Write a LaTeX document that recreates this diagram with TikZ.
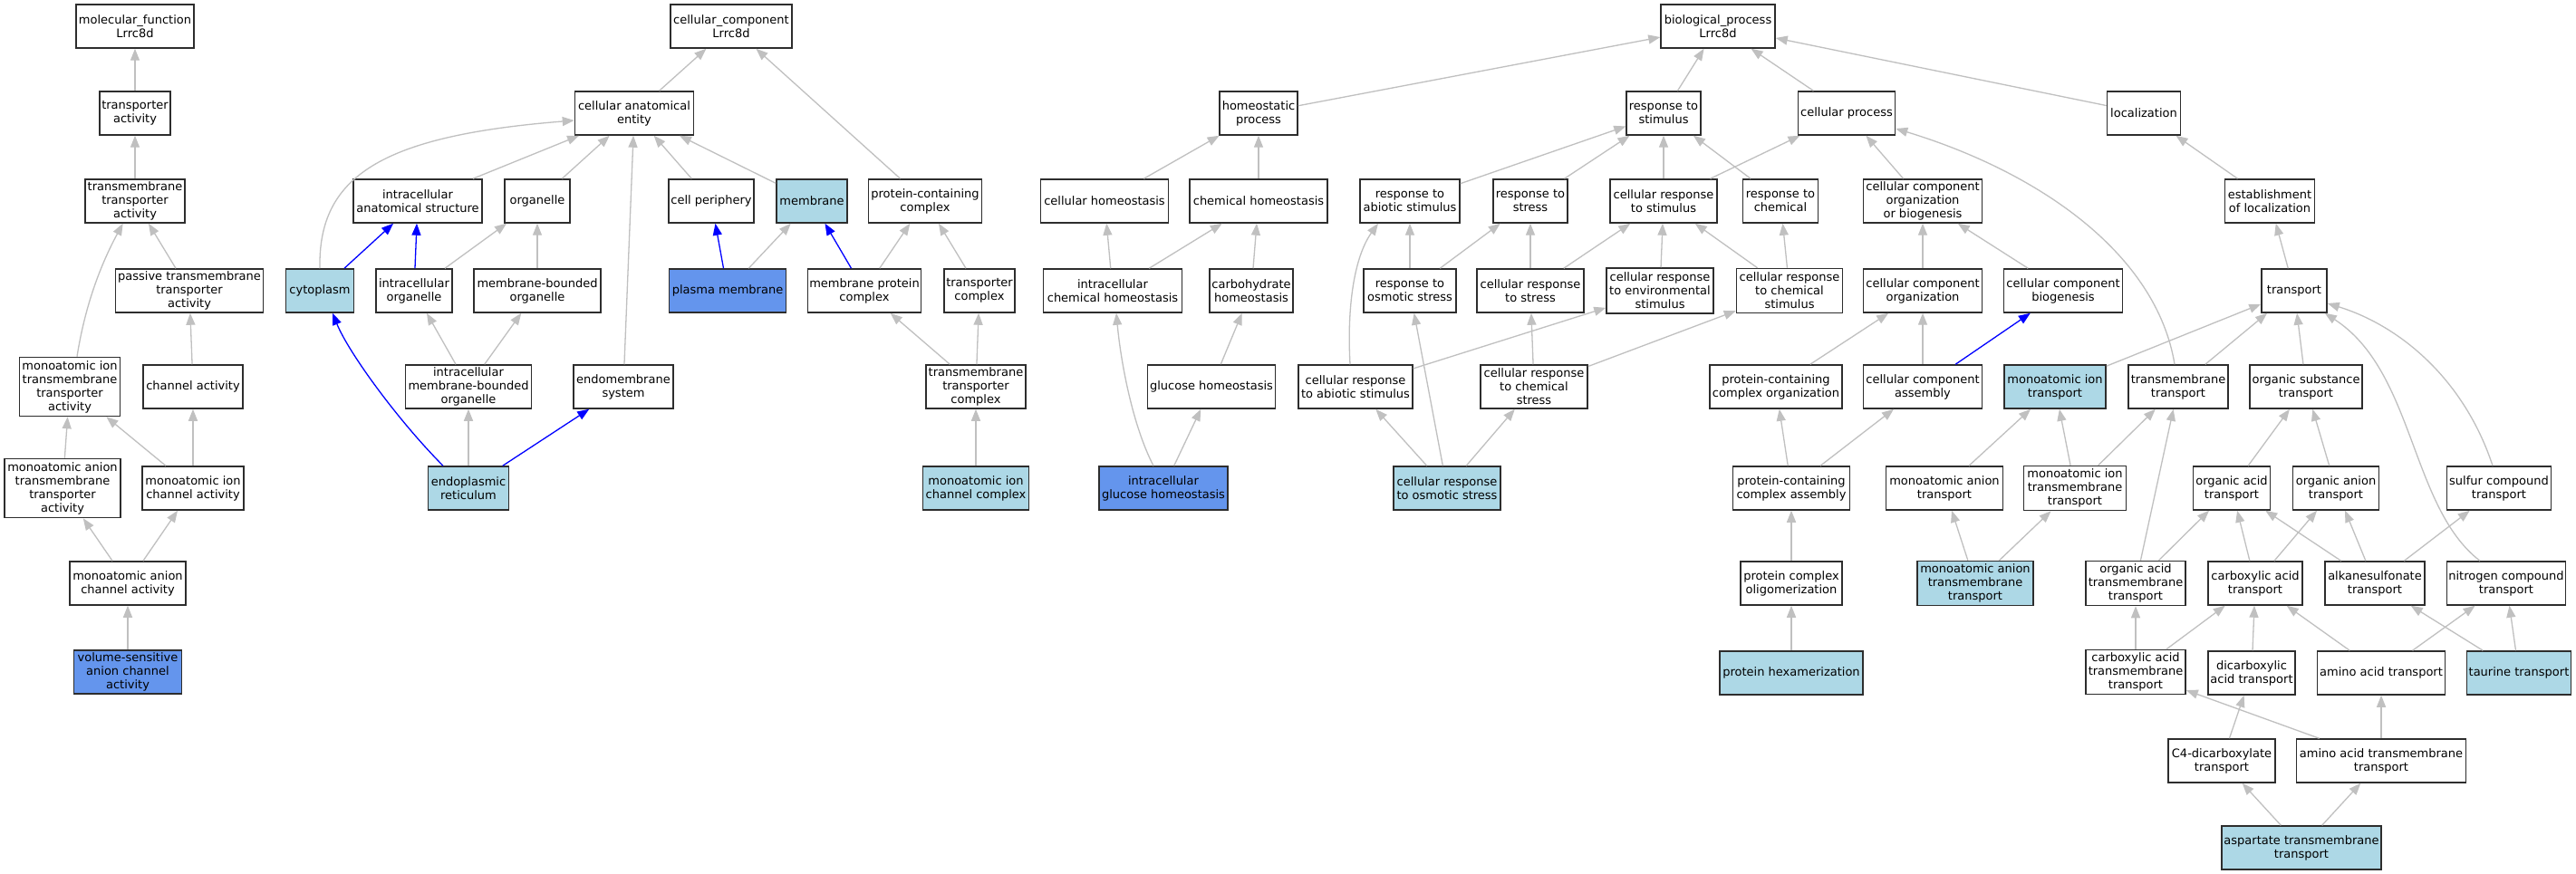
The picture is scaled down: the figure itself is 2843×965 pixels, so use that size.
\documentclass[tikz,border=0pt]{standalone}
\usepackage{fontspec}
\setmainfont{DejaVu Sans}
\usetikzlibrary{arrows.meta}
\definecolor{edgegray}{RGB}{192,192,192}
\definecolor{lblue}{RGB}{173,216,230}
\definecolor{cblue}{RGB}{100,149,237}
\definecolor{boxline}{RGB}{45,45,45}
\begin{document}
\begin{tikzpicture}[x=1pt,y=-1pt,
  box/.style={draw=boxline, line width=1.5pt, fill=white, rectangle, align=center,
    inner xsep=1pt, inner ysep=1pt, minimum height=48pt,
    font=\fontsize{13}{15}\selectfont, text=black},
  tall/.style={minimum height=65pt},
  hl/.style={fill=lblue},
  hd/.style={fill=cblue},
  isa/.style={draw=edgegray, line width=1.3pt, -{Triangle[length=13pt,width=10pt]}},
  isab/.style={draw=blue, line width=1.3pt, -{Triangle[length=13pt,width=10pt]}}]
\fill[white] (0,0) rectangle (2843,965);
\useasboundingbox (0,0) rectangle (2843,965);

% ---------- molecular function ----------
\node[box, minimum width=130pt] (mf) at (149,29) {molecular\_function\\Lrrc8d};
\node[box, minimum width=78pt] (ta) at (149,125) {transporter\\activity};
\node[box, minimum width=110pt] (tta) at (149,222) {transmembrane\\transporter\\activity};
\node[box, minimum width=163pt] (ptta) at (209,321) {passive transmembrane\\transporter\\activity};
\node[box, tall, minimum width=111pt] (mitta) at (77,427) {monoatomic ion\\transmembrane\\transporter\\activity};
\node[box, minimum width=110pt] (ca) at (213,427) {channel activity};
\node[box, tall, minimum width=128pt] (matta) at (69,539) {monoatomic anion\\transmembrane\\transporter\\activity};
\node[box, minimum width=112pt] (mica) at (213,539) {monoatomic ion\\channel activity};
\node[box, minimum width=128pt] (maca) at (141,644) {monoatomic anion\\channel activity};
\node[box, hd, minimum width=119pt] (vsac) at (141,742) {volume-sensitive\\anion channel\\activity};

% ---------- cellular component ----------
\node[box, minimum width=134pt] (cc) at (807,29) {cellular\_component\\Lrrc8d};
\node[box, minimum width=131pt] (cae) at (700,125) {cellular anatomical\\entity};
\node[box, minimum width=142pt] (ias) at (461,222) {intracellular\\anatomical structure};
\node[box, minimum width=72pt] (org) at (593,222) {organelle};
\node[box, minimum width=94pt] (cp) at (785,222) {cell periphery};
\node[box, hl, minimum width=78pt] (mem) at (896,222) {membrane};
\node[box, minimum width=125pt] (pcc) at (1021,222) {protein-containing\\complex};
\node[box, hl, minimum width=75pt] (cyto) at (353,321) {cytoplasm};
\node[box, minimum width=84pt] (io) at (457,321) {intracellular\\organelle};
\node[box, minimum width=140pt] (mbo) at (593,321) {membrane-bounded\\organelle};
\node[box, hd, minimum width=129pt] (pm) at (803,321) {plasma membrane};
\node[box, minimum width=125pt] (mpc) at (954,321) {membrane protein\\complex};
\node[box, minimum width=78pt] (tc) at (1081,321) {transporter\\complex};
\node[box, minimum width=139pt] (imbo) at (517,427) {intracellular\\membrane-bounded\\organelle};
\node[box, minimum width=110pt] (ems) at (688,427) {endomembrane\\system};
\node[box, minimum width=110pt] (ttc) at (1077,427) {transmembrane\\transporter\\complex};
\node[box, hl, minimum width=89pt] (er) at (517,539) {endoplasmic\\reticulum};
\node[box, hl, minimum width=117pt] (micc) at (1077,539) {monoatomic ion\\channel complex};

% ---------- biological process ----------
\node[box, minimum width=126pt] (bp) at (1896,29) {biological\_process\\Lrrc8d};
\node[box, minimum width=86pt] (hp) at (1389,125) {homeostatic\\process};
\node[box, minimum width=82pt] (rs) at (1836,125) {response to\\stimulus};
\node[box, minimum width=107pt] (cpr) at (2038,125) {cellular process};
\node[box, minimum width=81pt] (loc) at (2366,125) {localization};
\node[box, minimum width=141pt] (ch) at (1219,222) {cellular homeostasis};
\node[box, minimum width=152pt] (chh) at (1389,222) {chemical homeostasis};
\node[box, minimum width=110pt] (ras) at (1556,222) {response to\\abiotic stimulus};
\node[box, minimum width=82pt] (rst) at (1689,222) {response to\\stress};
\node[box, minimum width=118pt] (crs) at (1836,222) {cellular response\\to stimulus};
\node[box, minimum width=83pt] (rc) at (1965,222) {response to\\chemical};
\node[box, minimum width=131pt] (ccob) at (2122,222) {cellular component\\organization\\or biogenesis};
\node[box, minimum width=99pt] (eol) at (2505,222) {establishment\\of localization};
\node[box, minimum width=153pt] (ich) at (1228,321) {intracellular\\chemical homeostasis};
\node[box, minimum width=92pt] (carb) at (1381,321) {carbohydrate\\homeostasis};
\node[box, minimum width=102pt] (ros) at (1556,321) {response to\\osmotic stress};
\node[box, minimum width=118pt] (crst) at (1689,321) {cellular response\\to stress};
\node[box, minimum width=118pt, minimum height=50pt] (cres) at (1832,321) {cellular response\\to environmental\\stimulus};
\node[box, minimum width=117pt, minimum height=49pt] (crcs) at (1975,321) {cellular response\\to chemical\\stimulus};
\node[box, minimum width=131pt] (cco) at (2122,321) {cellular component\\organization};
\node[box, minimum width=131pt] (ccb) at (2277,321) {cellular component\\biogenesis};
\node[box, minimum width=72pt] (tr) at (2532,321) {transport};
\node[box, minimum width=141pt] (gh) at (1337,427) {glucose homeostasis};
\node[box, minimum width=126pt] (cras) at (1496,427) {cellular response\\to abiotic stimulus};
\node[box, minimum width=118pt] (crchs) at (1693,427) {cellular response\\to chemical\\stress};
\node[box, minimum width=146pt] (pco) at (1960,427) {protein-containing\\complex organization};
\node[box, minimum width=131pt] (cca) at (2122,427) {cellular component\\assembly};
\node[box, hl, minimum width=112pt] (mit) at (2268,427) {monoatomic ion\\transport};
\node[box, minimum width=110pt] (tmt) at (2404,427) {transmembrane\\transport};
\node[box, minimum width=124pt] (ost) at (2545,427) {organic substance\\transport};
\node[box, hd, minimum width=142pt] (igh) at (1284,539) {intracellular\\glucose homeostasis};
\node[box, hl, minimum width=118pt] (cros) at (1597,539) {cellular response\\to osmotic stress};
\node[box, minimum width=129pt] (pca) at (1977,539) {protein-containing\\complex assembly};
\node[box, minimum width=129pt] (mat) at (2146,539) {monoatomic anion\\transport};
\node[box, minimum width=113pt, minimum height=49pt] (mitt) at (2290,539) {monoatomic ion\\transmembrane\\transport};
\node[box, minimum width=85pt] (oat) at (2463,539) {organic acid\\transport};
\node[box, minimum width=95pt] (oant) at (2578,539) {organic anion\\transport};
\node[box, minimum width=115pt] (sct) at (2758,539) {sulfur compound\\transport};
\node[box, minimum width=112pt] (poli) at (1977,644) {protein complex\\oligomerization};
\node[box, hl, minimum width=128pt, minimum height=49pt] (matt) at (2180,644) {monoatomic anion\\transmembrane\\transport};
\node[box, minimum width=110pt, minimum height=49pt] (oatt) at (2357,644) {organic acid\\transmembrane\\transport};
\node[box, minimum width=104pt] (cat) at (2489,644) {carboxylic acid\\transport};
\node[box, minimum width=110pt] (alk) at (2621,644) {alkanesulfonate\\transport};
\node[box, minimum width=131pt] (nct) at (2766,644) {nitrogen compound\\transport};
\node[box, hl, minimum width=158pt] (phex) at (1977,743) {protein hexamerization};
\node[box, minimum width=110pt, minimum height=49pt] (catt) at (2357,742) {carboxylic acid\\transmembrane\\transport};
\node[box, minimum width=96pt] (dat) at (2485,743) {dicarboxylic\\acid transport};
\node[box, minimum width=141pt] (aat) at (2628,743) {amino acid transport};
\node[box, hl, minimum width=115pt] (tau) at (2780,743) {taurine transport};
\node[box, minimum width=118pt] (c4) at (2452,840) {C4-dicarboxylate\\transport};
\node[box, minimum width=187pt] (aatt) at (2628,840) {amino acid transmembrane\\transport};
\node[box, hl, minimum width=176pt] (asp) at (2540,936) {aspartate transmembrane\\transport};

% ---------- edges: molecular function ----------
\draw[isa] (ta) -- (mf);
\draw[isa] (tta) -- (ta);
\draw[isa] (ptta) -- (tta);
\draw[isa] ([xshift=8pt]mitta.north) .. controls (95,330) and (115,285) .. (tta);
\draw[isa] (ca) -- (ptta);
\draw[isa] (matta) -- (mitta);
\draw[isa] (mica) -- (mitta);
\draw[isa] (mica) -- (ca);
\draw[isa] (maca) -- (matta);
\draw[isa] (maca) -- (mica);
\draw[isa] (vsac) -- (maca);

% ---------- edges: cellular component ----------
\draw[isa] (cae) -- (cc);
\draw[isa] (pcc) -- (cc);
\draw[isa] (cyto.north) .. controls (351,195) and (420,150) .. ([yshift=-8pt]cae.west);
\draw[isa] (ias) -- (cae);
\draw[isa] (org) -- (cae);
\draw[isa] (cp) -- (cae);
\draw[isa] (mem) -- (cae);
\draw[isa] (ems) -- (cae);
\draw[isab] (cyto) -- (ias);
\draw[isab] (io) -- (ias);
\draw[isa] (io) -- (org);
\draw[isa] (mbo) -- (org);
\draw[isa] (imbo) -- (io);
\draw[isa] (imbo) -- (mbo);
\draw[isab] ([xshift=-28pt]er.north) .. controls (440,465) and (385,390) .. ([xshift=14pt]cyto.south);
\draw[isa] (er) -- (imbo);
\draw[isab] (er) -- (ems);
\draw[isab] (pm) -- (cp);
\draw[isa] (pm) -- (mem);
\draw[isab] (mpc) -- (mem);
\draw[isa] (mpc) -- (pcc);
\draw[isa] (tc) -- (pcc);
\draw[isa] (ttc) -- (mpc);
\draw[isa] (ttc) -- (tc);
\draw[isa] (micc) -- (ttc);

% ---------- edges: biological process ----------
\draw[isa] (hp) -- (bp);
\draw[isa] (rs) -- (bp);
\draw[isa] (cpr) -- (bp);
\draw[isa] (loc) -- (bp);
\draw[isa] (ch) -- (hp);
\draw[isa] (chh) -- (hp);
\draw[isa] (ich) -- (ch);
\draw[isa] (ich) -- (chh);
\draw[isa] (carb) -- (chh);
\draw[isa] (gh) -- (carb);
\draw[isa] ([xshift=-11pt]igh.north) .. controls (1250,470) and (1237,400) .. ([xshift=4pt]ich.south);
\draw[isa] (igh) -- (gh);
\draw[isa] (ras) -- (rs);
\draw[isa] (rst) -- (rs);
\draw[isa] (crs) -- (rs);
\draw[isa] (rc) -- (rs);
\draw[isa] (crs) -- (cpr);
\draw[isa] (ros) -- (ras);
\draw[isa] (ros) -- (rst);
\draw[isa] (crst) -- (rst);
\draw[isa] (crst) -- (crs);
\draw[isa] (cres) -- (crs);
\draw[isa] (crcs) -- (crs);
\draw[isa] (crcs) -- (rc);
\draw[isa] ([xshift=-6pt]cras.north) .. controls (1486,330) and (1497,280) .. ([xshift=-35pt]ras.south);
\draw[isa] (cras) -- (cres);
\draw[isa] (crchs) -- (crst);
\draw[isa] (crchs) -- (crcs);
\draw[isa] (cros) -- (cras);
\draw[isa] (cros) -- (ros);
\draw[isa] (cros) -- (crchs);
\draw[isa] (ccob) -- (cpr);
\draw[isa] (cco) -- (ccob);
\draw[isa] (ccb) -- (ccob);
\draw[isa] (cca) -- (cco);
\draw[isab] (cca) -- (ccb);
\draw[isa] (pco) -- (cco);
\draw[isa] (pca) -- (pco);
\draw[isa] (pca) -- (cca);
\draw[isa] (poli) -- (pca);
\draw[isa] (phex) -- (poli);
\draw[isa] (eol) -- (loc);
\draw[isa] (tr) -- (eol);
\draw[isa] ([xshift=-4pt]tmt.north) .. controls (2380,280) and (2250,190) .. ([yshift=-17pt]cpr.east);
\draw[isa] (mit) -- (tr);
\draw[isa] (tmt) -- (tr);
\draw[isa] (ost) -- (tr);
\draw[isa] ([xshift=-7pt]sct.north) .. controls (2720,420) and (2650,360) .. ([yshift=-14pt]tr.east);
\draw[isa] ([xshift=-29pt]nct.north) .. controls (2660,560) and (2665,410) .. ([xshift=-3pt]tr.south east);
\draw[isa] (mat) -- (mit);
\draw[isa] (mitt) -- (mit);
\draw[isa] (mitt) -- (tmt);
\draw[isa] (matt) -- (mat);
\draw[isa] (matt) -- (mitt);
\draw[isa] (oatt) -- (tmt);
\draw[isa] (oat) -- (ost);
\draw[isa] (oant) -- (ost);
\draw[isa] (oatt) -- (oat);
\draw[isa] (cat) -- (oat);
\draw[isa] (cat) -- (oant);
\draw[isa] (alk) -- (oat);
\draw[isa] (alk) -- (oant);
\draw[isa] (alk) -- (sct);
\draw[isa] (catt) -- (oatt);
\draw[isa] (catt) -- (cat);
\draw[isa] (dat) -- (cat);
\draw[isa] (aat) -- (cat);
\draw[isa] (aat) -- (nct);
\draw[isa] (tau) -- (alk);
\draw[isa] (tau) -- (nct);
\draw[isa] (c4) -- (dat);
\draw[isa] (aatt) -- (catt);
\draw[isa] (aatt) -- (aat);
\draw[isa] (asp) -- (c4);
\draw[isa] (asp) -- (aatt);
\end{tikzpicture}
\end{document}
